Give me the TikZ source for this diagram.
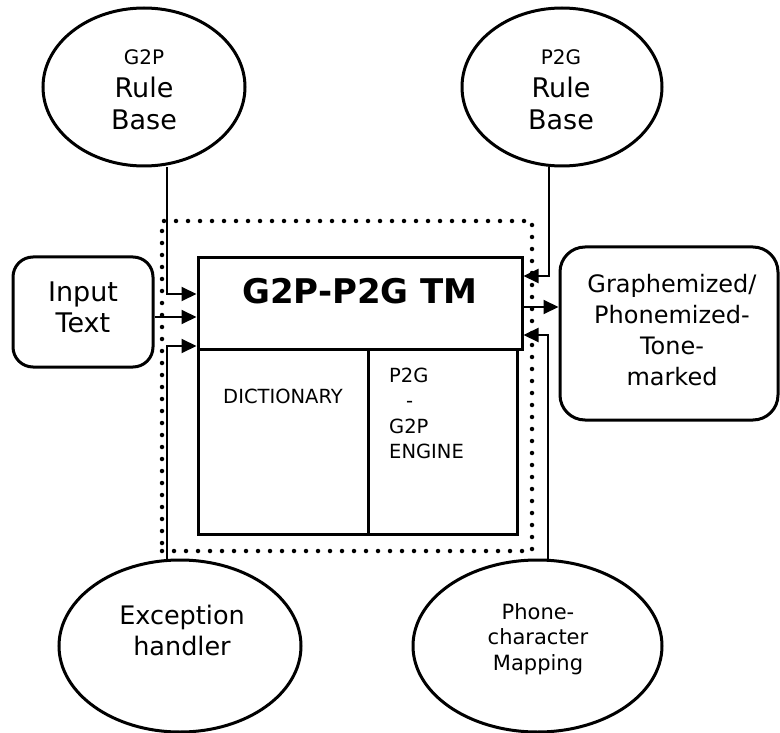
\documentclass[tikz,border=0pt]{standalone}
\usepackage{fontspec}
\setmainfont{DejaVu Sans}
\usetikzlibrary{shapes.geometric,arrows.meta}
\begin{document}
\begin{tikzpicture}[x=1pt,y=-1pt,
  ell/.style={draw,ellipse,line width=3pt,inner sep=0pt},
  rbox/.style={draw,rectangle,rounded corners=#1,line width=3pt,inner sep=0pt},
  sq/.style={draw,rectangle,line width=3pt,inner sep=0pt},
  frame/.style={draw,rectangle,inner sep=0pt,line width=4.5pt,line cap=round,dash pattern=on 0pt off 12pt},
  arr/.style={line width=2pt,-{Triangle[length=15pt,width=14pt]}},
  txt/.style={inner sep=0pt,align=center},
  ltxt/.style={inner sep=0pt,align=left}]
\useasboundingbox (0,0) rectangle (780,733);

% dotted boundary of the transliteration module
\node[frame,minimum width=370pt,minimum height=330pt] (zone) at (347,386) {};

% knowledge sources and I/O
\node[ell,minimum width=202pt,minimum height=158pt] (g2p) at (144,87) {};
\node[ell,minimum width=200pt,minimum height=158pt] (p2g) at (562,87) {};
\node[rbox=20pt,minimum width=140pt,minimum height=110pt] (inp) at (83,312) {};
\node[rbox=25pt,minimum width=218pt,minimum height=173pt] (out) at (669,333.5) {};
\node[ell,minimum width=242pt,minimum height=172pt] (exc) at (180,646) {};
\node[ell,minimum width=249pt,minimum height=172pt] (phone) at (537.5,646) {};

% core module
\node[sq,minimum width=324pt,minimum height=91pt] (tm) at (360,303.5) {};
\node[sq,minimum width=170pt,minimum height=185pt] (dict) at (283,441.5) {};
\node[sq,minimum width=149pt,minimum height=185pt] (eng) at (442.5,441.5) {};

% labels
\node[txt,anchor=base,font=\fontsize{20}{24}\selectfont] (g2ph) at (144,65) {G2P};
\node[txt,anchor=north,font=\fontsize{27}{31.5}\selectfont] (g2pt) at (144,77) {Rule\\Base};
\node[txt,anchor=base,font=\fontsize{20}{24}\selectfont] (p2gh) at (561,65) {P2G};
\node[txt,anchor=north,font=\fontsize{27}{31.5}\selectfont] (p2gt) at (561,77) {Rule\\Base};
\node[txt,anchor=north,font=\fontsize{27}{31}\selectfont] (inpt) at (83,282) {Input\\Text};
\node[txt,anchor=north,font=\fontsize{24}{31}\selectfont] (outt) at (672,274) {Graphemized/\\Phonemized-\\Tone-\\marked};
\node[txt,anchor=north,font=\fontsize{25.5}{31}\selectfont] (exct) at (182,605) {Exception\\handler};
\node[txt,anchor=north,font=\fontsize{21}{25.5}\selectfont] (phonet) at (538,603)
  {Phone-\\character\\Mapping};
\node[inner sep=0pt,anchor=base,font=\bfseries\fontsize{34}{38}\selectfont] (tmt) at (360,303) {G2P-P2G TM};
\node[inner sep=0pt,anchor=base,font=\fontsize{19.5}{23}\selectfont] (dictt) at (283,403) {DICTIONARY};
\node[ltxt,anchor=north west,font=\fontsize{19.5}{25.3}\selectfont] (engt) at (389,368)
  {P2G\\\hspace*{17pt}-\\G2P\\ENGINE};

% connectors
\coordinate (ja) at (167,294);
\coordinate (ji) at (0,317);
\coordinate (je) at (167,346);
\coordinate (jp) at (549,276);
\coordinate (jo) at (0,307);
\coordinate (jm) at (548,335);
\draw[arr] (g2p.south -| ja) -- (ja) -- (tm.west |- ja);
\draw[arr] (inp.east |- ji) -- (tm.west |- ji);
\draw[arr] (exc.north -| je) -- (je) -- (tm.west |- je);
\draw[arr] (p2g.south -| jp) -- (jp) -- (tm.east |- jp);
\draw[arr] (tm.east |- jo) -- (out.west |- jo);
\draw[arr] (phone.north -| jm) -- (jm) -- (tm.east |- jm);
\end{tikzpicture}
\end{document}
